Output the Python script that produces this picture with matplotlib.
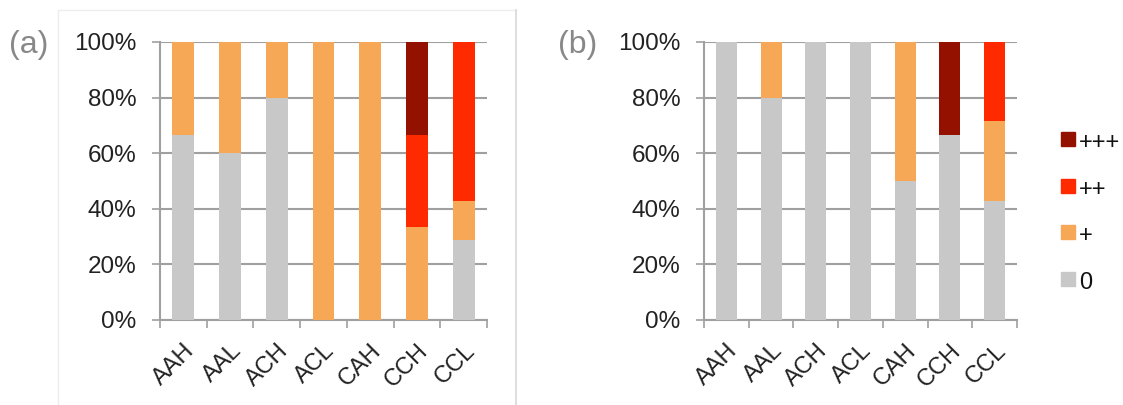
import numpy as np
import matplotlib
matplotlib.use("Agg")
import matplotlib.pyplot as plt
from matplotlib.patches import Rectangle
from matplotlib.lines import Line2D

plt.rcParams["font.family"] = ["Liberation Sans", "DejaVu Sans"]

categories = ["AAH", "AAL", "ACH", "ACL", "CAH", "CCH", "CCL"]
levels = ["0", "+", "++", "+++"]
colors = ["#C8C8C8", "#F7A857", "#FF2A00", "#941100"]

# percentages per level (0, +, ++, +++)
a_zero = [66.7, 60.0, 80.0, 0.0, 0.0, 0.0, 28.6]
a_plus = [33.3, 40.0, 20.0, 100.0, 100.0, 33.3, 14.3]
a_pp = [0.0, 0.0, 0.0, 0.0, 0.0, 33.3, 57.1]
a_ppp = [0.0, 0.0, 0.0, 0.0, 0.0, 33.4, 0.0]

b_zero = [100.0, 80.0, 100.0, 100.0, 50.0, 66.7, 42.9]
b_plus = [0.0, 20.0, 0.0, 0.0, 50.0, 0.0, 28.6]
b_pp = [0.0, 0.0, 0.0, 0.0, 0.0, 0.0, 28.5]
b_ppp = [0.0, 0.0, 0.0, 0.0, 0.0, 33.3, 0.0]

W, H = 1123, 405
fig = plt.figure(figsize=(W / 100, H / 100), dpi=100)


def px_axes(x0, x1, ytop, ybot):
    return fig.add_axes([x0 / W, (H - ybot) / H, (x1 - x0) / W, (ybot - ytop) / H])


def draw(ax, series):
    x = np.arange(len(categories))
    bottom = np.zeros(len(categories))
    for vals, c in zip(series, colors):
        vals = np.array(vals)
        ax.bar(x, vals, bottom=bottom, width=0.47, color=c, zorder=3)
        bottom += vals
    ax.set_xlim(-0.5, len(categories) - 0.5)
    ax.set_ylim(0, 100)
    ax.set_yticks(np.arange(0, 101, 20))
    ax.set_yticklabels([f"{v}%" for v in range(0, 101, 20)], fontsize=17.5, color="#222222")
    ax.yaxis.grid(True, color="#A0A0A0", lw=1.5, zorder=0)
    ax.set_xticks(np.arange(-0.5, len(categories), 1.0))
    ax.set_xticklabels([])
    ax.set_xticks(x, minor=True)
    ax.set_xticklabels(categories, minor=True, rotation=45, ha="right",
                       rotation_mode="anchor", fontsize=17, color="#222222")
    ax.tick_params(axis="x", which="minor", length=0, pad=14)
    ax.tick_params(axis="x", which="major", length=6, width=1.2, color="#A0A0A0", direction="out")
    ax.tick_params(axis="y", length=6, width=1.2, color="#A0A0A0", pad=11)
    for s in ["top", "right"]:
        ax.spines[s].set_visible(False)
    for s in ["left", "bottom"]:
        ax.spines[s].set_color("#A0A0A0")
        ax.spines[s].set_linewidth(1.5)
    ax.set_axisbelow(True)


ax1 = px_axes(160, 487, 42, 320)
draw(ax1, [a_zero, a_plus, a_pp, a_ppp])
ax2 = px_axes(704, 1017, 42, 320)
draw(ax2, [b_zero, b_plus, b_pp, b_ppp])

fig.text(9 / W, 1 - 45 / H, "(a)", fontsize=23, color="#888888", va="center", ha="left")
fig.text(558 / W, 1 - 45 / H, "(b)", fontsize=23, color="#888888", va="center", ha="left")

# thin frame around panel (a)
fig.add_artist(Line2D([58 / W, 58 / W], [0, 1 - 10 / H], color="#EDEDED", lw=1))
fig.add_artist(Line2D([58 / W, 516 / W], [1 - 10 / H, 1 - 10 / H], color="#EDEDED", lw=1))
fig.add_artist(Line2D([516 / W, 516 / W], [0, 1 - 10 / H], color="#D8D8D8", lw=1.2))

# legend
leg_y = [139, 186, 232, 279]
for lab, c, yy in zip(levels[::-1], colors[::-1], leg_y):
    fig.add_artist(Rectangle((1061 / W, 1 - (yy + 7) / H), 14 / W, 14 / H,
                             transform=fig.transFigure, color=c))
    fig.text(1079 / W, 1 - (yy + 4) / H, lab, fontsize=17, color="#111111", va="center", ha="left")

fig.savefig("out.png", dpi=100, facecolor="white")
